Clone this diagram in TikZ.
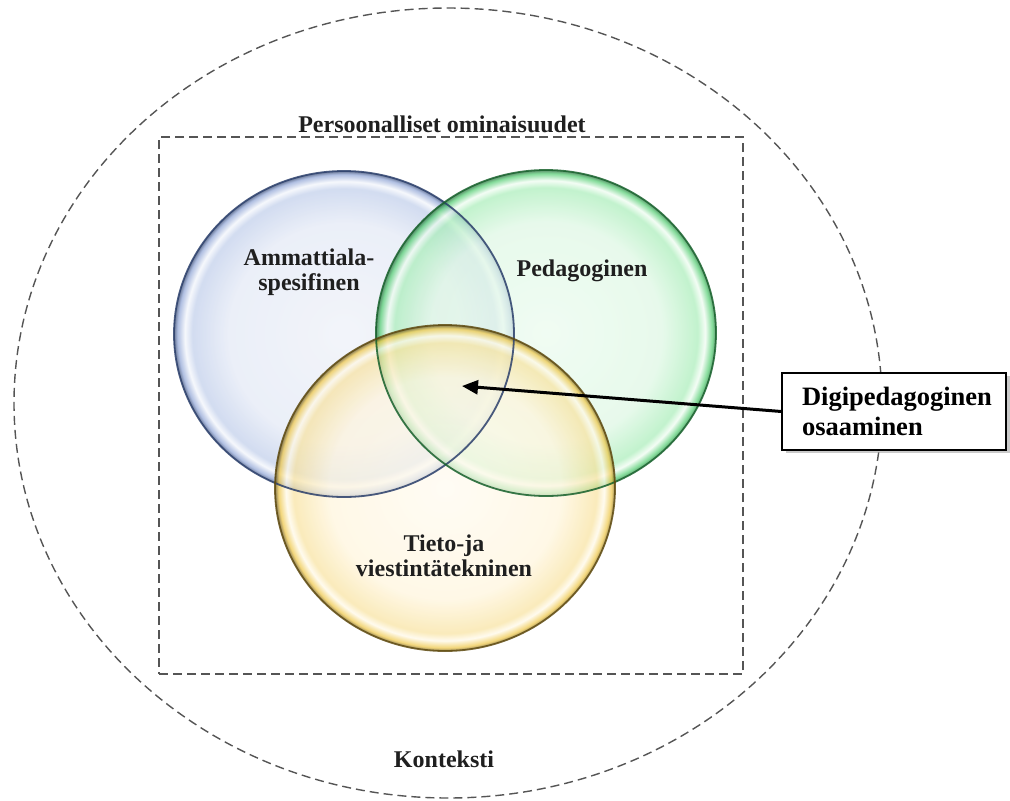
\documentclass[tikz,border=0pt]{standalone}
\usepackage{fontspec}
\setmainfont{Liberation Serif}
\usetikzlibrary{shapes.geometric,arrows.meta,shadows}
\definecolor{bluedge}{HTML}{2B3F6B}
\definecolor{greenedge}{HTML}{17612C}
\definecolor{yellowedge}{HTML}{5E4A10}
\definecolor{dashgrey}{HTML}{555555}
\definecolor{bA}{HTML}{EDF0F8}\definecolor{bB}{HTML}{E2E8F5}\definecolor{bC}{HTML}{BFCDEA}
\definecolor{bD}{HTML}{F2F5FB}\definecolor{bE}{HTML}{8CA2D4}
\definecolor{gA}{HTML}{EAFBEE}\definecolor{gB}{HTML}{DDF7E3}\definecolor{gC}{HTML}{A8EDB8}
\definecolor{gD}{HTML}{EFFCF1}\definecolor{gE}{HTML}{4CCB6C}
\definecolor{yA}{HTML}{FFFBF0}\definecolor{yB}{HTML}{FFF5DC}\definecolor{yC}{HTML}{F8E29E}
\definecolor{yD}{HTML}{FFF9E8}\definecolor{yE}{HTML}{EDC440}
\pgfdeclareradialshading{blueball}{\pgfpoint{0bp}{0bp}}{%
 color(0bp)=(bA); color(17bp)=(bB); color(22.3bp)=(bC); color(23.4bp)=(bD);
 color(24.5bp)=(bE); color(25bp)=(bluedge); color(50bp)=(bluedge)}
\pgfdeclareradialshading{greenball}{\pgfpoint{0bp}{0bp}}{%
 color(0bp)=(gA); color(17bp)=(gB); color(22.3bp)=(gC); color(23.4bp)=(gD);
 color(24.5bp)=(gE); color(25bp)=(greenedge); color(50bp)=(greenedge)}
\pgfdeclareradialshading{yellowball}{\pgfpoint{0bp}{0bp}}{%
 color(0bp)=(yA); color(17bp)=(yB); color(22.3bp)=(yC); color(23.4bp)=(yD);
 color(24.5bp)=(yE); color(25bp)=(yellowedge); color(50bp)=(yellowedge)}
\tikzset{
  venn/.style={ellipse, inner sep=0pt, minimum width=340pt, minimum height=326pt, fill opacity=0.7},
  lbl/.style={font=\bfseries\fontsize{24}{25}\selectfont, align=center, text=black!88, inner sep=0pt},
  callout/.style={draw=black, line width=1.2pt, fill=white, align=left, text width=184pt,
    inner xsep=20pt, inner ysep=6pt, font=\bfseries\fontsize{26.5}{30}\selectfont,
    drop shadow={shadow xshift=4pt, shadow yshift=-3pt, fill=black!35, opacity=0.6}},
  dashline/.style={draw=dashgrey, line width=1.4pt, dash pattern=on 9pt off 5pt},
  pointer/.style={line width=3pt, -{Triangle[length=16pt,width=14pt]}}
}
\begin{document}
\begin{tikzpicture}[x=1pt,y=-1pt]
\useasboundingbox (0,0) rectangle (1010,801);
\node[ellipse, dashline, minimum width=868pt, minimum height=790pt, inner sep=0pt] (outer) at (448,403) {};
\node[rectangle, dashline, minimum width=584pt, minimum height=537pt, inner sep=0pt] (frame) at (451,405.5) {};
\node[lbl] (pers) at (442,124) {Persoonalliset ominaisuudet};
\node[lbl] (kont) at (444,759) {Konteksti};
\node[venn, shading=blueball] (blue) at (344,334) {};
\node[venn, shading=greenball] (green) at (546,333) {};
\node[venn, shading=yellowball] (yellow) at (445,488) {};
\node[venn, draw=bluedge, line width=1.8pt, draw opacity=0.85] at (blue) {};
\node[venn, draw=greenedge, line width=1.8pt, draw opacity=0.85] at (green) {};
\node[venn, draw=yellowedge, line width=1.8pt, draw opacity=0.85] at (yellow) {};
\node[lbl] (amm) at (309,272) {Ammattiala-\\spesifinen};
\node[lbl] (ped) at (582,271) {Pedagoginen};
\node[lbl] (tieto) at (444,556) {Tieto-ja\\viestintätekninen};
\node[callout, minimum height=77pt] (box) at (894,411.5) {Digipedagoginen\\osaaminen};
\coordinate (tip) at (462,386);
\draw[pointer] (box.west) -- (tip);
\end{tikzpicture}
\end{document}
